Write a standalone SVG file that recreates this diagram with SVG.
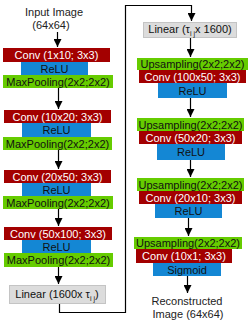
<svg xmlns="http://www.w3.org/2000/svg" width="249" height="322" viewBox="0 0 249 322">
<defs>
<marker id="ah" viewBox="0 0 8 8" refX="8" refY="4" markerWidth="8" markerHeight="8" markerUnits="userSpaceOnUse" orient="auto">
<path d="M0,0 L8,4 L0,8 Z" fill="#000"/>
</marker>
<style>
text{font-family:"Liberation Sans",Arial,sans-serif;font-size:11px;text-anchor:middle}
.conv{fill:#a30000}
.relu{fill:#1487d4}
.pool{fill:#66cc00}
.lin{fill:#dcdcdc;stroke:#c4c4c4;stroke-width:1}
.tw{fill:#ffffff}
.tb{fill:#111111}
.lbl{fill:#222222}
.c{fill:none;stroke:#000;stroke-width:1.2}
</style>
</defs>
<g id="input"><text class="lbl" x="54" y="16">Input Image</text><text class="lbl" x="51" y="29">(64x64)</text></g>
<g id="enc1">
<rect class="conv" x="3" y="48" width="107" height="14"/><text class="tw" x="56.5" y="59">Conv (1x10; 3x3)</text>
<rect class="relu" x="21" y="62" width="67" height="13"/><text class="tb" x="54.5" y="72.5">ReLU</text>
<rect class="pool" x="3" y="75" width="110" height="13"/><text class="tb" x="58" y="85.5">MaxPooling(2x2;2x2)</text>
</g>
<g id="enc2">
<rect class="conv" x="4" y="110" width="107" height="13"/><text class="tw" x="57.5" y="120.5">Conv (10x20; 3x3)</text>
<rect class="relu" x="22" y="123" width="69" height="14"/><text class="tb" x="56.5" y="134">ReLU</text>
<rect class="pool" x="3" y="137" width="109" height="13"/><text class="tb" x="57.5" y="147.5">MaxPooling(2x2;2x2)</text>
</g>
<g id="enc3">
<rect class="conv" x="4" y="170" width="107" height="13"/><text class="tw" x="57.5" y="180.5">Conv (20x50; 3x3)</text>
<rect class="relu" x="22" y="183" width="69" height="13"/><text class="tb" x="56.5" y="193.5">ReLU</text>
<rect class="pool" x="3" y="196" width="110" height="13"/><text class="tb" x="58" y="206.5">MaxPooling(2x2;2x2)</text>
</g>
<g id="enc4">
<rect class="conv" x="4" y="227" width="108" height="13"/><text class="tw" x="58" y="237.5">Conv (50x100; 3x3)</text>
<rect class="relu" x="22" y="240" width="69" height="13"/><text class="tb" x="56.5" y="250.5">ReLU</text>
<rect class="pool" x="4" y="253" width="109" height="14"/><text class="tb" x="58.5" y="264">MaxPooling(2x2;2x2)</text>
</g>
<g id="linear1">
<rect class="lin" x="9.5" y="285.5" width="96" height="18"/><text class="tb" x="57" y="297.5">Linear (1600x τ<tspan font-size="7" dy="3">i j</tspan><tspan dy="-3">)</tspan></text>
</g>
<g id="linear2">
<rect class="lin" x="143.5" y="22.5" width="93" height="15"/><text class="tb" x="190" y="33">Linear (τ<tspan font-size="7" dy="3">i j</tspan><tspan dy="-3">x 1600)</tspan></text>
</g>
<g id="dec1">
<rect class="pool" x="137" y="58" width="111" height="12"/><text class="tb" x="192.5" y="68">Upsampling(2x2;2x2)</text>
<rect class="conv" x="139" y="70" width="107" height="13"/><text class="tw" x="192.5" y="80.5">Conv (100x50; 3x3)</text>
<rect class="relu" x="158" y="83" width="69" height="15"/><text class="tb" x="192.5" y="94.5">ReLU</text>
</g>
<g id="dec2">
<rect class="pool" x="137" y="118" width="107" height="13"/><text class="tb" x="190.5" y="128.5">Upsampling(2x2;2x2)</text>
<rect class="conv" x="139" y="131" width="103" height="13"/><text class="tw" x="190.5" y="141.5">Conv (50x20; 3x3)</text>
<rect class="relu" x="157" y="144" width="68" height="16"/><text class="tb" x="191" y="156">ReLU</text>
</g>
<g id="dec3">
<rect class="pool" x="137" y="178" width="107" height="13"/><text class="tb" x="190.5" y="188.5">Upsampling(2x2;2x2)</text>
<rect class="conv" x="139" y="191" width="103" height="13"/><text class="tw" x="190.5" y="201.5">Conv (20x10; 3x3)</text>
<rect class="relu" x="155" y="204" width="67" height="14"/><text class="tb" x="188.5" y="215">ReLU</text>
</g>
<g id="dec4">
<rect class="pool" x="134" y="237" width="108" height="12"/><text class="tb" x="188" y="247">Upsampling(2x2;2x2)</text>
<rect class="conv" x="136" y="249" width="96" height="14"/><text class="tw" x="184" y="260">Conv (10x1; 3x3)</text>
<rect class="relu" x="153" y="263" width="68" height="13"/><text class="tb" x="187" y="273.5">Sigmoid</text>
</g>
<g id="output"><text class="lbl" x="187" y="305">Reconstructed</text><text class="lbl" x="188" y="318">Image  (64x64)</text></g>
<g id="connectors">
<path class="c" d="M57.5,32 V47" marker-end="url(#ah)"/>
<path class="c" d="M58.5,88 V109" marker-end="url(#ah)"/>
<path class="c" d="M58.5,150 V169" marker-end="url(#ah)"/>
<path class="c" d="M58.5,209 V226" marker-end="url(#ah)"/>
<path class="c" d="M58.5,267 V284" marker-end="url(#ah)"/>
<path class="c" d="M59.5,304 V312.5 H125.5 V5.5 H191.5 V21" marker-end="url(#ah)"/>
<path class="c" d="M190.5,38 V57" marker-end="url(#ah)"/>
<path class="c" d="M190.5,98 V117" marker-end="url(#ah)"/>
<path class="c" d="M190.5,160 V177" marker-end="url(#ah)"/>
<path class="c" d="M188.5,218 V236" marker-end="url(#ah)"/>
<path class="c" d="M187.5,276 V293" marker-end="url(#ah)"/>
</g>
</svg>
